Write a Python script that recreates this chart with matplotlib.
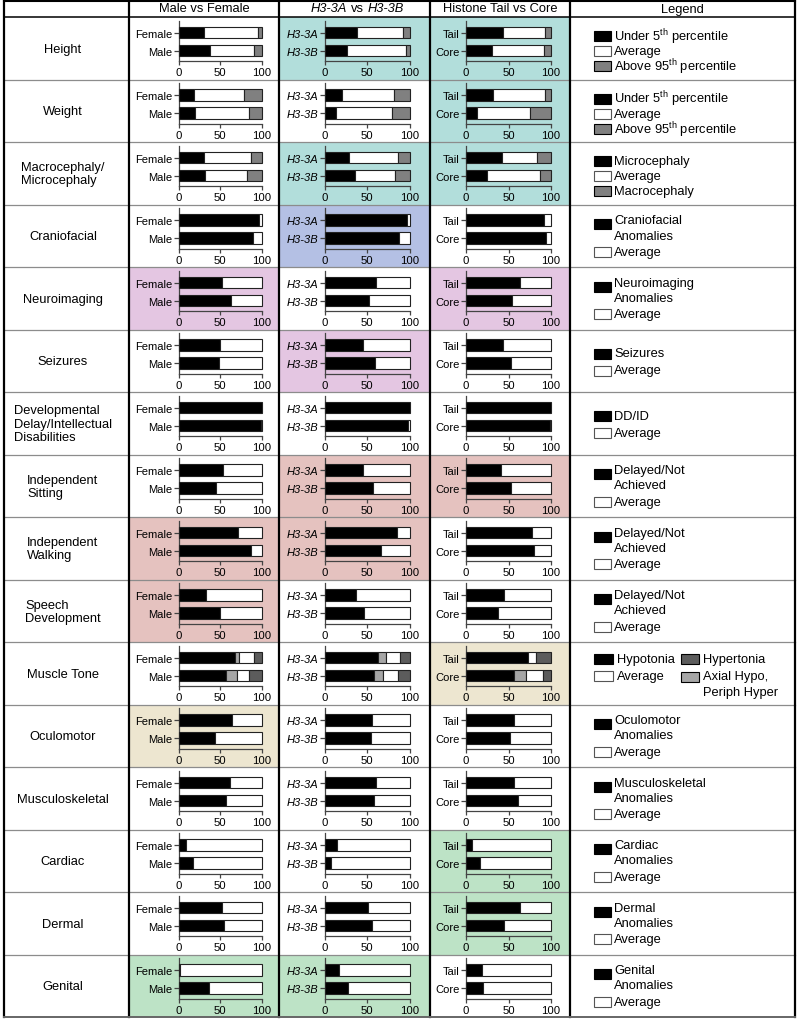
import matplotlib
matplotlib.use("Agg")
import matplotlib.pyplot as plt
from matplotlib.patches import Rectangle

plt.rcParams['font.family'] = ['Liberation Sans', 'DejaVu Sans']
plt.rcParams['mathtext.fontset'] = 'custom'
plt.rcParams['mathtext.rm'] = 'Liberation Sans'
plt.rcParams['mathtext.it'] = 'Liberation Sans:italic'

features = ["Height", "Weight", "Macrocephaly/\nMicrocephaly", "Craniofacial",
            "Neuroimaging", "Seizures",
            "Developmental\nDelay/Intellectual\nDisabilities",
            "Independent\nSitting", "Independent\nWalking", "Speech\nDevelopment",
            "Muscle Tone", "Oculomotor", "Musculoskeletal", "Cardiac", "Dermal",
            "Genital"]
kinds = ["pct", "pct", "pct", "bin", "bin", "bin", "bin", "bin", "bin", "bin",
         "tone", "bin", "bin", "bin", "bin", "bin"]

col_titles = ["Male vs Female", None, "Histone Tail vs Core", "Legend"]
bar_labels = [["Female", "Male"], ["H3-3A", "H3-3B"], ["Tail", "Core"]]

# percent of patients, upper bar first; a single value = affected (black), rest average
male_female = [
    [[31, 64.5, 4.5], [38, 52.5, 9.5]],
    [[18, 60, 22], [20, 64, 16]],
    [[30, 57, 13], [32, 50, 18]],
    [[96], [89]],
    [[52], [63]],
    [[49.5], [48.5]],
    [[100], [99]],
    [[53], [45]],
    [[71], [86.5]],
    [[33], [49.5]],
    [[67.5, 5.5, 18, 9], [57, 13, 14.5, 15.5]],
    [[64], [44]],
    [[62], [57]],
    [[9], [17]],
    [[51.5], [54]],
    [[2], [36.5]],
]
h33a_h33b = [
    [[38, 54, 8], [26.5, 68.5, 5]],
    [[20, 61.5, 18.5], [14, 65, 21]],
    [[28.5, 57, 14.5], [36, 47, 17]],
    [[96], [87]],
    [[60.5], [52]],
    [[45], [59]],
    [[100], [98]],
    [[45], [57]],
    [[84.5], [65.5]],
    [[37], [46]],
    [[63, 8.5, 17, 11.5], [58, 10, 18, 14]],
    [[55.5], [54]],
    [[60.5], [58]],
    [[15], [8]],
    [[50.5], [55]],
    [[16.5], [28]],
]
tail_core = [
    [[43, 50, 7], [30, 62, 8]],
    [[32, 61, 7], [13, 62.5, 24.5]],
    [[42, 41, 17], [24.5, 62, 13.5]],
    [[92], [94]],
    [[63.5], [54]],
    [[44], [53]],
    [[100], [99]],
    [[41], [53.5]],
    [[78], [79.5]],
    [[45], [37.5]],
    [[73, 0, 9, 18], [56, 15, 20, 9]],
    [[57], [52]],
    [[57], [61]],
    [[7], [17]],
    [[64], [45]],
    [[19], [20]],
]
columns = [male_female, h33a_h33b, tail_core]

# highlighted cells: (row, column) -> colour name
highlights = {(0, 1): "teal", (0, 2): "teal", (1, 2): "teal", (2, 1): "teal", (2, 2): "teal",
              (3, 1): "blue", (4, 0): "pink", (4, 2): "pink", (5, 1): "pink",
              (7, 1): "salmon", (7, 2): "salmon", (8, 0): "salmon", (8, 1): "salmon",
              (9, 0): "salmon", (10, 2): "beige", (11, 0): "beige",
              (13, 2): "green", (14, 2): "green", (15, 0): "green", (15, 1): "green"}

legend_names = [
    ["Under 5$^{\\mathrm{th}}$ percentile", "Average", "Above 95$^{\\mathrm{th}}$ percentile"],
    ["Under 5$^{\\mathrm{th}}$ percentile", "Average", "Above 95$^{\\mathrm{th}}$ percentile"],
    ["Microcephaly", "Average", "Macrocephaly"],
    ["Craniofacial\nAnomalies", "Average"],
    ["Neuroimaging\nAnomalies", "Average"],
    ["Seizures", "Average"],
    ["DD/ID", "Average"],
    ["Delayed/Not\nAchieved", "Average"],
    ["Delayed/Not\nAchieved", "Average"],
    ["Delayed/Not\nAchieved", "Average"],
    ["Hypotonia", "Axial Hypo,\nPeriph Hyper", "Average", "Hypertonia"],
    ["Oculomotor\nAnomalies", "Average"],
    ["Musculoskeletal\nAnomalies", "Average"],
    ["Cardiac\nAnomalies", "Average"],
    ["Dermal\nAnomalies", "Average"],
    ["Genital\nAnomalies", "Average"],
]

bg_colors = {"teal": "#b2dedb", "blue": "#b4c0e4", "pink": "#e4c6e2",
             "salmon": "#e5c2bf", "beige": "#ede6d0", "green": "#bde3c6"}
seg_colors = {"pct": ["black", "white", "#808080"],
              "bin": ["black", "white"],
              "tone": ["black", "#a6a6a6", "white", "#5c5c5c"]}

W, H = 797, 1020
fig = plt.figure(figsize=(W / 100, H / 100), dpi=100)
bg = fig.add_axes([0, 0, 1, 1])
bg.set_xlim(0, W)
bg.set_ylim(H, 0)
bg.axis("off")

vlines = [4.5, 129, 279, 430, 570, 795]
top_y, head_y, row_h = 1.5, 18, 62.5
bottom_y = head_y + row_h * len(features)
ax_x = [(178.5, 262), (324.5, 410), (466, 551)]

# cell backgrounds
for (r, c), name in highlights.items():
    bg.add_patch(Rectangle((vlines[c + 1], head_y + r * row_h), vlines[c + 2] - vlines[c + 1],
                           row_h, color=bg_colors[name], lw=0, zorder=0))

# grid
for x in vlines:
    bg.plot([x, x], [top_y, bottom_y], color="black", lw=1.6, zorder=3)
bg.plot([vlines[0], vlines[-1]], [top_y, top_y], color="black", lw=1.5, zorder=3)
bg.plot([vlines[0], vlines[-1]], [head_y, head_y], color="black", lw=1.1, zorder=3)
for r in range(1, len(features)):
    y = head_y + r * row_h
    bg.plot([vlines[0], vlines[-1]], [y, y], color="#8c8c8c", lw=0.9, zorder=2)
bg.plot([vlines[0], vlines[-1]], [bottom_y, bottom_y], color="#666666", lw=1.4, zorder=3)

# header
fs = 9.3
bg.text(204, 9.5, col_titles[0], ha="center", va="center", fontsize=fs)
bg.text(346.5, 9.5, "H3-3A", ha="right", va="center", fontsize=fs, style="italic")
bg.text(357, 9.5, "vs", ha="center", va="center", fontsize=fs)
bg.text(367.5, 9.5, "H3-3B", ha="left", va="center", fontsize=fs, style="italic")
bg.text(500, 9.5, col_titles[2], ha="center", va="center", fontsize=fs)
bg.text(682, 9.5, col_titles[3], ha="center", va="center", fontsize=fs)


def legend_box(x, y, color, w=17, h=10):
    edge = "#555555" if color == "white" else "black"
    bg.add_patch(Rectangle((x, y - h / 2), w, h, facecolor=color, edgecolor=edge, lw=0.8, zorder=4))


for r, feat in enumerate(features):
    T = head_y + r * row_h
    bg.text(63, T + row_h / 2 + 0.5, feat, ha="center", va="center", multialignment="left",
            fontsize=fs, linespacing=1.15)

    # legend
    names = legend_names[r]
    cols = seg_colors[kinds[r]]
    if kinds[r] == "tone":
        legend_box(594, T + 17, cols[0], w=19)
        bg.text(617, T + 17, names[0], va="center", fontsize=fs)
        legend_box(594, T + 34, cols[2], w=19)
        bg.text(617, T + 34, names[2], va="center", fontsize=fs)
        legend_box(681, T + 17, cols[3], w=18)
        bg.text(703, T + 17, names[3], va="center", fontsize=fs)
        legend_box(681, T + 35, cols[1], w=18)
        for i, line in enumerate(names[1].split("\n")):
            bg.text(703, T + 34 + 16 * i, line, va="center", fontsize=fs)
    elif len(names) == 3:
        for i, (n, c) in enumerate(zip(names, cols)):
            y = T + 19 + 15.2 * i
            legend_box(594, y, c)
            bg.text(614, y, n, va="center", fontsize=fs)
    elif "\n" in names[0]:
        lines = names[0].split("\n")
        legend_box(594, T + 19.5, cols[0])
        bg.text(614, T + 15.7, lines[0], va="center", fontsize=fs)
        bg.text(614, T + 31, lines[1], va="center", fontsize=fs)
        legend_box(594, T + 47.3, cols[1])
        bg.text(614, T + 47.5, names[1], va="center", fontsize=fs)
    else:
        legend_box(594, T + 24, cols[0])
        bg.text(614, T + 24, names[0], va="center", fontsize=fs)
        legend_box(594, T + 41, cols[1])
        bg.text(614, T + 41, names[1], va="center", fontsize=fs)

    # bar charts
    for c, data in enumerate(columns):
        x0, x1 = ax_x[c]
        a_top, a_bot = T + 3.7, T + 44.3
        ax = fig.add_axes([x0 / W, 1 - a_bot / H, (x1 - x0) / W, (a_bot - a_top) / H])
        ax.set_facecolor("none")
        for ypos, segs in zip([1, 0], data[r]):
            if len(segs) == 1:
                segs = [segs[0], 100 - segs[0]]
            left = 0
            for w, col in zip(segs, cols):
                if w > 0:
                    ax.barh(ypos, w, left=left, height=0.65, color=col,
                            edgecolor="#222222", linewidth=0.8, clip_on=False, zorder=3)
                left += w
        ax.set_xlim(0, 100)
        ax.set_ylim(-0.6, 1.66)
        for s in ["top", "right"]:
            ax.spines[s].set_visible(False)
        for s in ["left", "bottom"]:
            ax.spines[s].set_color("#444444")
            ax.spines[s].set_linewidth(0.9)
        ax.set_xticks([0, 50, 100])
        ax.set_yticks([1, 0])
        ax.set_yticklabels(bar_labels[c])
        ax.tick_params(axis="x", length=3, width=0.9, color="#444444", labelsize=8.2, pad=1.2)
        ax.tick_params(axis="y", length=3.6, width=0.9, color="#444444", labelsize=8, pad=0.8)
        if c == 1:
            for t in ax.get_yticklabels():
                t.set_fontstyle("italic")

fig.savefig("out.png", dpi=100)
